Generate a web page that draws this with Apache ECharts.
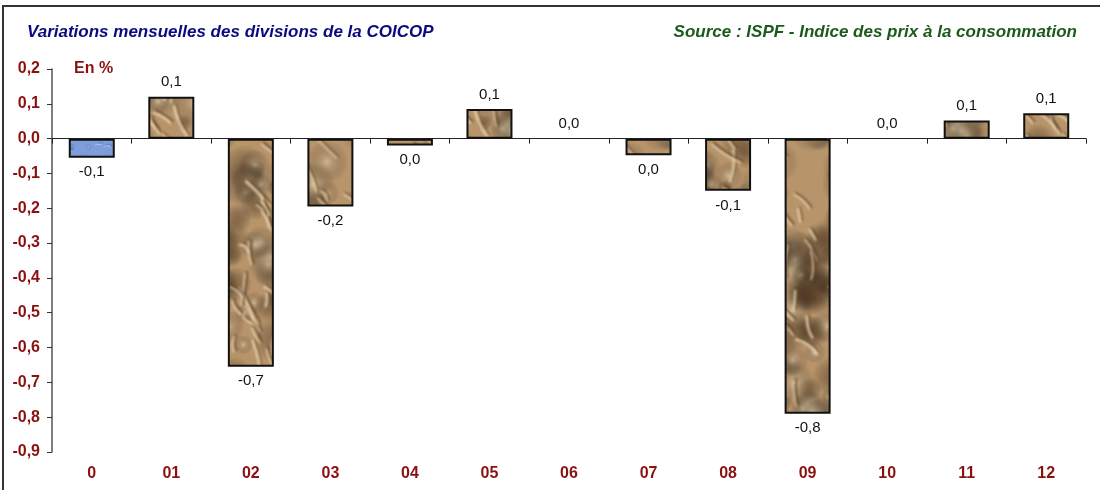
<!DOCTYPE html>
<html>
<head>
<meta charset="utf-8">
<script src="https://cdn.jsdelivr.net/npm/echarts@6/dist/echarts.min.js"></script>
<style>
  html, body { margin: 0; padding: 0; background: #fff; }
  #main { width: 1100px; height: 490px; }
</style>
</head>
<body>
<div id="main"></div>
<script>
// données
const categories = ['0', '01', '02', '03', '04', '05', '06', '07', '08', '09', '10', '11', '12']
const values = [-0.055, 0.12, -0.655, -0.195, -0.02, 0.085, 0, -0.048, -0.15, -0.79, 0, 0.052, 0.073]
const yMin = -0.9
const yMax = 0.2
const yStep = 0.1

const titleText = 'Variations mensuelles des divisions de la COICOP'
const sourceText = 'Source : ISPF - Indice des prix à la consommation'
const unitText = 'En %'

const FONT = '"Liberation Sans", Arial, sans-serif'
const RED = '#8b1010'

// texture "papier froissé" dessinée dans un canvas (raccordée sur les bords)
function makePattern(opt) {
  const c = document.createElement('canvas')
  const w = opt.w, h = opt.h
  c.width = w
  c.height = h
  const g = c.getContext('2d')
  g.fillStyle = opt.base
  g.fillRect(0, 0, w, h)
  let s = opt.seed
  const rnd = () => {
    s = (s * 9301 + 49297) % 233280
    return s / 233280
  }
  const wrap = fn => {
    for (const ox of [-w, 0, w]) for (const oy of [-h, 0, h]) fn(ox, oy)
  }
  // taches claires / sombres
  for (let i = 0; i < opt.blots; i++) {
    const x = rnd() * w, y = rnd() * h, r = opt.blotR + rnd() * opt.blotR * 2
    const col = rnd() > 0.45 ? opt.light : opt.dark
    wrap((ox, oy) => {
      const grad = g.createRadialGradient(x + ox, y + oy, 0, x + ox, y + oy, r)
      grad.addColorStop(0, col)
      grad.addColorStop(1, 'rgba(0,0,0,0)')
      g.globalAlpha = opt.blotAlpha
      g.fillStyle = grad
      g.fillRect(x + ox - r, y + oy - r, 2 * r, 2 * r)
    })
  }
  // plis
  g.filter = opt.blur ? 'blur(' + opt.blur + 'px)' : 'none'
  g.lineCap = 'round'
  for (let i = 0; i < opt.creases; i++) {
    const x = rnd() * w, y = rnd() * h
    const len = opt.minLen + rnd() * opt.varLen
    const ang = opt.angle + (rnd() - 0.5) * opt.spread
    const dx = Math.cos(ang) * len, dy = Math.sin(ang) * len
    const bx = (rnd() - 0.5) * 8, by = (rnd() - 0.5) * 8
    const lw1 = opt.lw + rnd() * opt.lw, lw2 = opt.lw + rnd() * opt.lw
    wrap((ox, oy) => {
      const x0 = x + ox, y0 = y + oy
      g.strokeStyle = opt.dark
      g.globalAlpha = 0.6
      g.lineWidth = lw1
      g.beginPath()
      g.moveTo(x0, y0)
      g.quadraticCurveTo(x0 + dx / 2 + bx, y0 + dy / 2 + by, x0 + dx, y0 + dy)
      g.stroke()
      g.strokeStyle = opt.light
      g.globalAlpha = 0.75
      g.lineWidth = lw2
      g.beginPath()
      g.moveTo(x0 - 2, y0 + 1.5)
      g.quadraticCurveTo(x0 + dx / 2 + bx - 2, y0 + dy / 2 + by + 1.5, x0 + dx - 2, y0 + dy + 1.5)
      g.stroke()
    })
  }
  g.filter = 'none'
  g.globalAlpha = 1
  return c
}

const paper = makePattern({
  w: 150, h: 280, base: '#b8946a', light: '#eed9b4', dark: '#5a3d23',
  seed: 17, blots: 90, blotR: 8, blotAlpha: 0.5,
  creases: 75, minLen: 10, varLen: 26, lw: 1.5, blur: 0.8,
  angle: 1.1, spread: 1.2
})
const blue = makePattern({
  w: 90, h: 60, base: '#7f9ddb', light: '#c6d6f4', dark: '#3f63b0',
  seed: 5, blots: 10, blotR: 3, blotAlpha: 0.3,
  creases: 90, minLen: 2, varLen: 6, lw: 0.6, blur: 0,
  angle: 0, spread: 0.3
})

function fmt(v) {
  let r = Math.round(v * 10) / 10
  if (Math.abs(r) < 1e-9) r = 0
  return r.toFixed(1).replace('.', ',')
}

const chart = echarts.init(document.getElementById('main'))

const barData = values.map((v, i) => ({
  value: v,
  itemStyle: {
    color: { image: i === 0 ? blue : paper, repeat: 'repeat' },
    borderWidth: v === 0 ? 0 : 2
  },
  label: { position: v < 0 ? 'bottom' : 'top' }
}))

chart.setOption({
  animation: false,
  backgroundColor: '#fff',
  title: [
    {
      text: titleText, left: 22, top: 19,
      textStyle: { fontFamily: FONT, fontSize: 17, fontWeight: 'bold', fontStyle: 'italic', color: '#0a0a80' }
    },
    {
      text: sourceText, right: 18, top: 19,
      textStyle: { fontFamily: FONT, fontSize: 17, fontWeight: 'bold', fontStyle: 'italic', color: '#1c5a1c' }
    },
    {
      text: unitText, left: 69, top: 56,
      textStyle: { fontFamily: FONT, fontSize: 16, fontWeight: 'bold', color: RED }
    }
  ],
  graphic: [{
    type: 'rect',
    shape: { x: 3, y: 6, width: 1200, height: 600 },
    style: { fill: 'none', stroke: '#333', lineWidth: 2 },
    silent: true
  }],
  grid: { left: 52, right: 14, top: 69, bottom: 38 },
  xAxis: [
    {
      type: 'category',
      data: categories,
      axisLine: { onZero: true, lineStyle: { color: '#222', width: 1 } },
      axisTick: { show: true, length: 5, lineStyle: { color: '#222' } },
      axisLabel: { show: false }
    },
    {
      type: 'category',
      data: categories,
      position: 'bottom',
      axisLine: { show: false, onZero: false },
      axisTick: { show: false },
      axisLabel: { margin: 14, fontFamily: FONT, fontSize: 16, fontWeight: 'bold', color: RED }
    }
  ],
  yAxis: {
    type: 'value',
    min: yMin,
    max: yMax,
    interval: yStep,
    splitLine: { show: false },
    axisLine: { show: true, lineStyle: { color: '#555', width: 1.5 } },
    axisTick: { show: true, length: 5, lineStyle: { color: '#333' } },
    axisLabel: {
      margin: 12,
      fontFamily: FONT, fontSize: 16, fontWeight: 'bold', color: RED,
      formatter: v => fmt(v)
    }
  },
  series: [{
    type: 'bar',
    xAxisIndex: 0,
    data: barData,
    barWidth: 46,
    itemStyle: { borderColor: '#111', borderWidth: 2 },
    label: {
      show: true,
      distance: 7,
      fontFamily: FONT, fontSize: 15, color: '#111',
      formatter: p => fmt(p.value)
    }
  }]
})
</script>
</body>
</html>
